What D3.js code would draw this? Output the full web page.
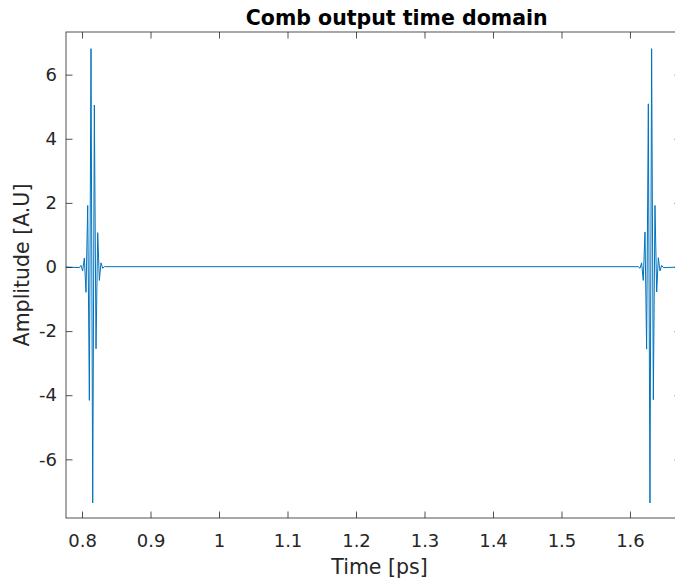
<!DOCTYPE html>
<html>
<head>
<meta charset="utf-8">
<script src="https://cdn.jsdelivr.net/npm/d3@7/dist/d3.min.js"></script>
<style>
  html, body { margin: 0; padding: 0; background: #fff; }
  svg { display: block; }
  text { font-family: "DejaVu Sans", sans-serif; }
</style>
</head>
<body>
<svg id="chart" width="675" height="583"></svg>
<script>
// ---- Data ----
const pulse1Time = [0.7961, 0.7985, 0.8009, 0.8034, 0.8058, 0.8083, 0.8107, 0.8131,
                    0.8156, 0.8180, 0.8204, 0.8229, 0.8253, 0.8277, 0.8302, 0.8326];
const pulse1Amp  = [-0.02, 0.05, -0.12, 0.28, -0.79, 1.92, -4.16, 6.81,
                    -7.36, 5.05, -2.55, 1.07, -0.42, 0.13, -0.04, 0.01];
const pulse2Time = [1.6121, 1.6146, 1.6170, 1.6194, 1.6219, 1.6243, 1.6268, 1.6292,
                    1.6316, 1.6341, 1.6365, 1.6390, 1.6414, 1.6438, 1.6463, 1.6487];
const pulse2Amp  = [0.01, -0.04, 0.13, -0.42, 1.09, -2.56, 5.09, -7.36,
                    6.81, -4.14, 1.92, -0.78, 0.29, -0.12, 0.05, -0.02];
const timeStart = 0.7766, timeEnd = 1.6745;
const xTicks = [0.8, 0.9, 1, 1.1, 1.2, 1.3, 1.4, 1.5, 1.6];
const yTicks = [-6, -4, -2, 0, 2, 4, 6];
const yRange = [-7.83, 7.33];

// build the series
const series = [{t: timeStart, a: 0}]
  .concat(pulse1Time.map((t, i) => ({t, a: pulse1Amp[i]})))
  .concat(pulse2Time.map((t, i) => ({t, a: pulse2Amp[i]})))
  .concat([{t: timeEnd, a: 0}]);

// ---- Layout ----
const W = 675, H = 583;
const m = {left: 66, top: 32, right: 681, bottom: 518};
const svg = d3.select("#chart");
const axisColor = "#262626";

const x = d3.scaleLinear().domain([timeStart, timeEnd]).range([m.left, m.right]);
const y = d3.scaleLinear().domain(yRange).range([m.bottom, m.top]);

// data line
svg.append("path")
  .datum(series)
  .attr("fill", "none")
  .attr("stroke", "#0072BD")
  .attr("stroke-width", 1)
  .attr("d", d3.line().x(d => x(d.t)).y(d => y(d.a)));

const tickLen = 6.5;
function styleAxis(g) {
  g.select(".domain").remove();
  g.selectAll(".tick line").attr("stroke", axisColor).attr("stroke-width", 0.8);
  g.selectAll(".tick text").attr("fill", axisColor)
    .style("font-family", "DejaVu Sans, sans-serif").style("font-size", "18px");
}
const fmt = d => String(+d.toFixed(2));

// bottom axis
svg.append("g").attr("transform", `translate(0,${m.bottom})`)
  .call(d3.axisBottom(x).tickValues(xTicks).tickSizeInner(-tickLen).tickSizeOuter(0).tickPadding(16).tickFormat(fmt))
  .call(styleAxis);
// top axis (ticks only)
svg.append("g").attr("transform", `translate(0,${m.top})`)
  .call(d3.axisTop(x).tickValues(xTicks).tickSizeInner(-tickLen).tickSizeOuter(0).tickFormat(""))
  .call(styleAxis);
// left axis
svg.append("g").attr("transform", `translate(${m.left},0)`)
  .call(d3.axisLeft(y).tickValues(yTicks).tickSizeInner(-tickLen).tickSizeOuter(0).tickPadding(9).tickFormat(fmt))
  .call(styleAxis);
// right axis (ticks only)
svg.append("g").attr("transform", `translate(${m.right},0)`)
  .call(d3.axisRight(y).tickValues(yTicks).tickSizeInner(-tickLen).tickSizeOuter(0).tickFormat(""))
  .call(styleAxis);

// box
svg.append("rect")
  .attr("x", m.left).attr("y", m.top)
  .attr("width", m.right - m.left).attr("height", m.bottom - m.top)
  .attr("fill", "none").attr("stroke", axisColor).attr("stroke-width", 0.8);

// labels
svg.append("text")
  .attr("x", 379.5).attr("y", 574)
  .attr("text-anchor", "middle").attr("fill", axisColor)
  .style("font-size", "20.5px")
  .text("Time [ps]");

svg.append("text")
  .attr("transform", `translate(29,265) rotate(-90)`)
  .attr("text-anchor", "middle").attr("fill", axisColor)
  .style("font-size", "20.5px")
  .text("Amplitude [A.U]");

svg.append("text")
  .attr("x", 396.7).attr("y", 25)
  .attr("text-anchor", "middle").attr("fill", "#000")
  .style("font-size", "20.5px").style("font-weight", "bold")
  .text("Comb output time domain");
</script>
</body>
</html>
